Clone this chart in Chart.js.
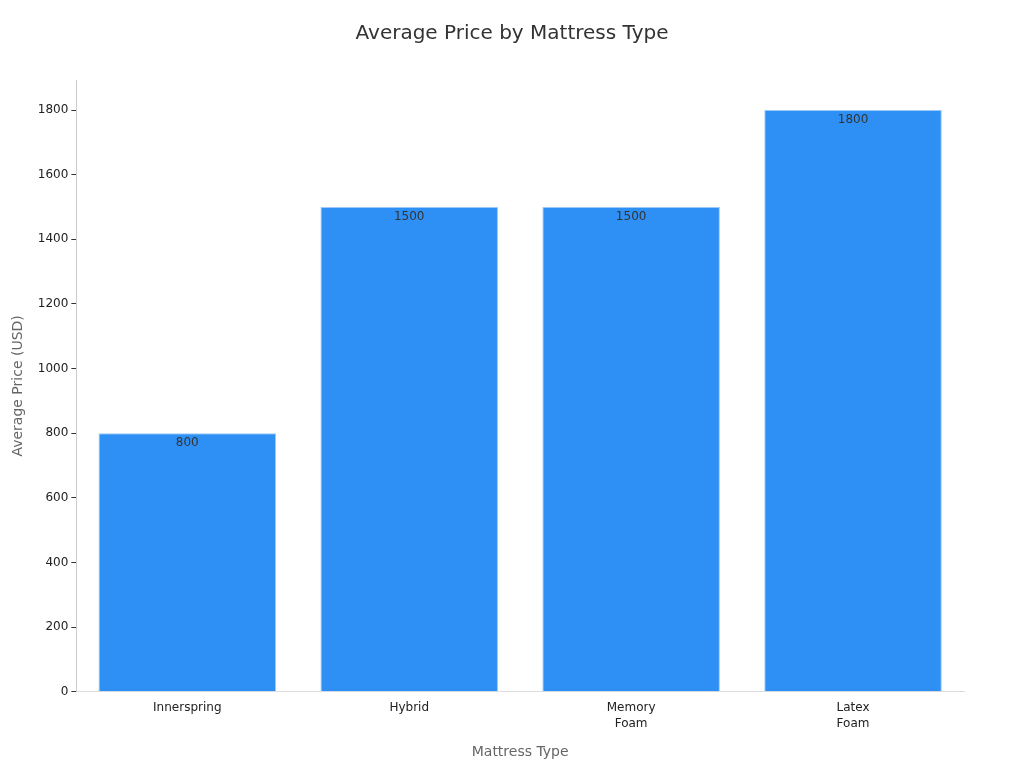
<!DOCTYPE html>
<html>
<head>
<meta charset="utf-8">
<script src="https://cdn.jsdelivr.net/npm/chart.js@4"></script>
<style>
  html, body { margin: 0; padding: 0; background: #fff; }
  #wrap { width: 1024px; height: 768px; }
</style>
</head>
<body>
<div id="wrap"><canvas id="priceChart" width="1024" height="768"></canvas></div>
<script>
// Data
const mattressTypes = [['Innerspring'], ['Hybrid'], ['Memory', 'Foam'], ['Latex', 'Foam']];
const avgPrices = [800, 1500, 1500, 1800];
const chartTitle = 'Average Price by Mattress Type';

Chart.defaults.font.family = 'DejaVu Sans';

// Draw the value just under the top of each bar, and the page-centred title
const valueLabels = {
  id: 'valueLabels',
  afterDatasetsDraw(chart) {
    const { ctx } = chart;
    const meta = chart.getDatasetMeta(0);
    ctx.save();
    ctx.font = '12px DejaVu Sans';
    ctx.fillStyle = '#333';
    ctx.textAlign = 'center';
    ctx.textBaseline = 'top';
    meta.data.forEach((bar, i) => {
      ctx.fillText(avgPrices[i], bar.x, bar.y + 4);
    });
    ctx.font = '20px DejaVu Sans';
    ctx.textBaseline = 'middle';
    ctx.fillText(chartTitle, chart.width / 2, 34);
    ctx.restore();
  }
};

new Chart(document.getElementById('priceChart'), {
  type: 'bar',
  data: {
    labels: mattressTypes,
    datasets: [{
      data: avgPrices,
      backgroundColor: '#2E90F5',
      borderColor: '#9CC9F7',
      borderWidth: 1,
      barPercentage: 0.8,
      categoryPercentage: 1.0
    }]
  },
  options: {
    responsive: false,
    animation: false,
    layout: { padding: { top: 80, right: 60, left: 6, bottom: 3 } },
    plugins: {
      legend: { display: false },
      tooltip: { enabled: false }
    },
    scales: {
      x: {
        grid: { display: false, drawTicks: false },
        border: { color: '#ddd' },
        ticks: { color: '#222', font: { size: 12, lineHeight: 1.35 }, padding: 8 },
        title: { display: true, text: 'Mattress Type', color: '#666', font: { size: 14 }, padding: { top: 4 } }
      },
      y: {
        min: 0,
        max: 1893,
        grid: { display: true, drawOnChartArea: false, drawTicks: true, tickLength: 5, color: '#333' },
        border: { color: '#ccc' },
        afterBuildTicks(axis) {
          axis.ticks = [0, 200, 400, 600, 800, 1000, 1200, 1400, 1600, 1800].map(v => ({ value: v }));
        },
        ticks: { color: '#222', font: { size: 12 }, padding: 3, callback: v => String(v) },
        title: { display: true, text: 'Average Price (USD)', color: '#666', font: { size: 14 }, padding: { bottom: 8 } }
      }
    }
  },
  plugins: [valueLabels]
});
</script>
</body>
</html>
